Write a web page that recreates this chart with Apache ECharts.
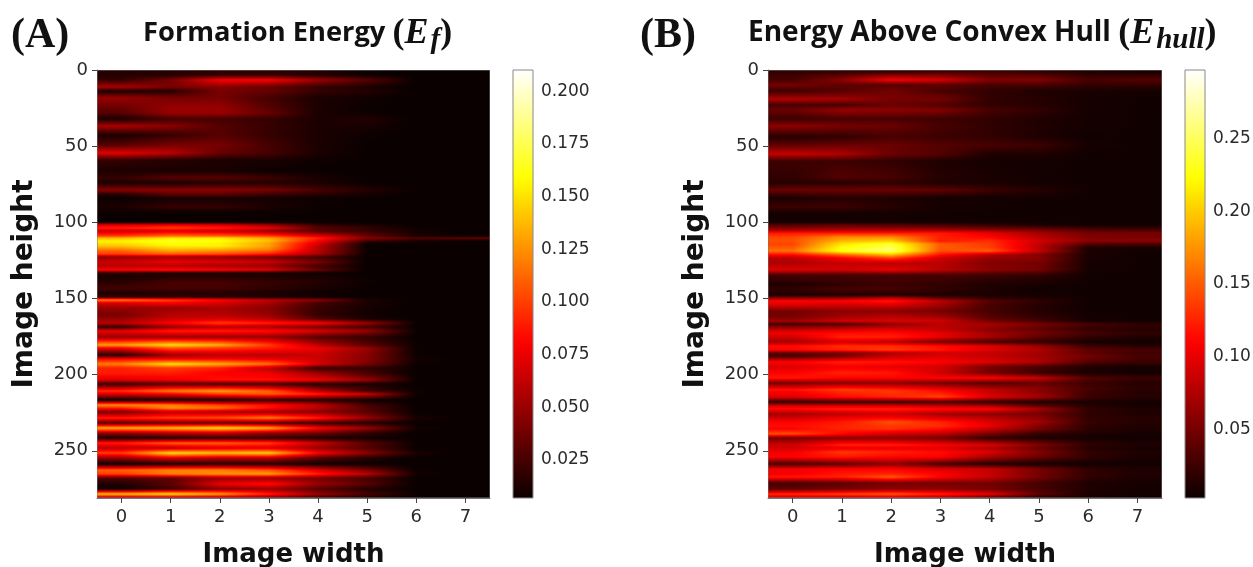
<!DOCTYPE html>
<html><head><meta charset="utf-8">
<style>html,body{margin:0;padding:0;background:#fff}#c{width:1253px;height:567px}</style>
<script src="https://cdn.jsdelivr.net/npm/echarts@6/dist/echarts.min.js"></script>
</head><body><div id="c"></div>
<script>
// Image-height position of each row
const efRowPos = [1,3,6.5,11,14,18.5,25,28.5,32,36.5,43,49,54.7,59,66,71,74.4,78.7,82,84,89.7,93,97.3,100,102,103.5,106,108.7,110.5,112,113.8,115.7,118,121,123,126,128.4,131,133,134.5,139,143,146.5,148.9,151,153,156,160.7,163.5,166,169,171.6,175.6,180.4,182.6,187,189.6,193,195.7,199,203.4,206,210.5,213,216.5,220,221.6,224.7,228.6,232,235,238.4,241.3,245,248.3,251.6,255,258.6,262.5,265,268,272,275,278.5,281];
// Formation energy values, thousandths of a unit, one column per image width 0..7
const efMilli = [
[15,15,18,18,14,8,6,6],[15,15,20,20,15,8,6,6],[20,40,78,78,50,30,7,6],[55,40,45,35,20,12,6,6],[12,15,40,35,20,15,6,6],[50,40,40,25,12,9,6,6],[35,50,50,30,12,8,6,6],[30,50,50,35,12,8,6,6],[12,25,25,20,12,14,6,6],[55,45,30,20,12,12,6,6],[12,20,30,20,12,8,6,6],[30,40,40,25,12,7,6,6],[72,60,35,25,12,7,6,6],[20,15,12,12,8,7,6,6],[12,12,12,8,7,6,6,6],
[20,30,30,22,12,7,6,6],[12,12,15,15,12,7,6,6],[45,45,45,40,25,15,7,6],[12,30,30,20,15,10,6,6],[8,10,10,10,8,7,6,6],[12,20,20,12,8,7,6,6],[8,8,8,8,7,6,6,6],[6,6,6,6,6,6,6,6],[6,6,6,6,6,6,6,6],[70,75,70,50,20,12,7,6],[90,100,90,75,30,20,7,6],[65,70,65,50,30,20,10,6],[100,115,110,100,70,35,12,8],[135,150,150,130,90,45,28,33],[155,165,160,140,80,25,12,8],[150,160,155,130,70,8,7,6],[140,155,155,130,62,7,6,6],[115,135,130,118,60,7,6,6],[100,110,105,90,55,7,6,6],[50,55,50,40,25,6,6,6],[65,75,70,65,40,6,6,6],[60,60,55,50,25,6,6,6],[80,85,80,70,35,6,6,6],[20,15,15,12,10,6,6,6],[12,12,12,12,10,7,6,6],[15,25,25,20,15,8,6,6],
[25,25,25,18,12,7,6,6],[12,15,15,12,8,7,6,6],[20,20,18,14,10,7,6,6],[120,100,80,60,45,12,6,6],[70,80,70,55,25,12,6,6],[50,50,55,45,20,10,6,6],[40,60,60,50,20,10,6,6],[50,65,70,60,30,12,6,6],[60,80,100,90,80,50,8,6],[20,50,60,55,40,25,6,6],[75,90,90,85,70,50,8,6],[50,50,50,50,30,20,6,6],[130,150,135,100,60,30,8,6],[80,110,100,90,75,50,7,6],[15,50,60,60,65,45,8,6],[80,80,80,75,65,45,10,6],[120,150,135,115,70,40,8,6],[90,100,90,60,20,20,7,6],[90,90,80,75,50,25,6,6],[70,75,85,85,75,50,8,6],[20,30,25,25,15,12,6,6],
[95,120,130,110,60,25,8,6],[70,80,100,110,90,65,8,6],[8,12,12,20,15,8,6,6],[125,120,100,85,60,25,6,6],[90,125,115,85,60,30,6,6],[40,60,55,50,45,30,6,6],[90,100,105,120,90,50,12,6],[30,35,35,30,20,15,6,6],[135,140,150,135,80,50,10,6],[50,60,65,50,40,20,6,6],[12,15,20,20,12,10,6,6],[90,110,110,100,65,30,8,6],[60,60,70,70,50,30,6,6],[100,150,140,145,80,45,12,6],[50,70,60,60,30,15,6,6],[8,12,15,15,10,8,6,6],[110,120,120,105,70,40,7,6],[100,120,125,130,90,60,10,6],[30,35,50,50,40,25,6,6],[12,30,75,85,50,30,6,6],[10,25,45,50,30,15,6,6],[140,150,130,90,50,25,8,6],[50,50,50,40,20,12,6,6]];
const hullRowPos = [1,6.5,10,14,19,23,26,32,37,44,49,55,60,70,74.4,78.7,84,89.7,94,99.5,101.7,105,107,109.4,112,114.4,116.6,118.8,121.4,123.6,127,131,134.5,141,144,147.5,149.8,151.5,154,158.5,162,165,167,170.5,172.7,175.6,178.6,181.5,183.7,186,188,191.8,195,199,202,205.5,210,211,214.8,217.7,220.5,222.7,225.8,228.6,231,234,236,239,241.7,246,248.3,250.5,253.8,258.6,262,265,267.3,271,275,278.2,280.3];
// Energy above convex hull values, thousandths of a unit, one column per image width 0..7
const hullMilli = [
[20,20,20,25,25,20,12,8],[30,60,105,90,55,55,30,35],[50,40,35,40,30,30,20,20],[25,35,50,30,20,12,10,8],[75,70,50,50,20,15,8,6],[30,30,45,35,20,15,8,6],[45,65,60,55,30,20,8,6],[25,30,30,25,20,12,8,6],[60,50,45,30,20,12,8,6],[15,20,30,25,20,12,6,6],[40,45,45,35,30,25,8,6],[85,75,45,35,12,12,6,6],[25,25,20,12,8,7,6,6],[20,35,30,15,10,7,6,6],
[15,15,20,12,10,7,6,6],[45,45,45,40,25,15,6,6],[10,15,12,8,7,6,6,6],[25,25,15,8,7,6,6,6],[8,8,8,7,6,6,6,6],[6,6,6,6,6,6,6,6],[35,40,35,30,20,12,6,6],[70,75,75,70,60,50,35,30],[120,120,120,120,100,70,50,50],[140,170,170,125,110,80,55,50],[145,190,200,120,130,90,60,60],[140,210,235,150,135,85,35,30],[150,225,250,150,140,80,10,8],[160,230,255,145,150,85,12,7],[110,150,190,115,75,55,10,6],[80,110,140,90,65,60,10,6],[75,85,80,80,55,50,8,6],[95,90,100,80,60,50,8,6],[30,30,30,30,25,20,6,6],[12,20,25,20,12,8,6,6],
[20,30,30,20,12,6,6,6],[10,12,12,12,10,7,6,6],[60,60,80,40,20,12,6,6],[110,110,120,80,35,20,6,6],[95,90,95,70,30,15,6,6],[50,60,60,50,30,15,6,6],[50,70,80,70,35,20,8,6],[70,90,95,90,50,30,8,6],[30,35,60,80,70,50,30,20],[85,95,100,85,60,40,20,15],[105,115,115,100,70,50,30,20],[90,125,125,100,70,40,20,12],[70,90,80,50,30,20,8,6],[115,130,130,115,95,65,25,15],[110,125,135,120,95,75,40,30],[40,50,75,90,85,70,40,25],[30,50,85,95,85,70,50,30],[110,125,120,110,95,75,35,25],[95,105,100,90,50,30,12,8],[110,125,120,90,50,25,10,6],[120,110,110,110,110,85,35,25],[50,60,60,50,35,45,25,15],[120,140,130,110,85,60,30,18],
[110,130,135,115,85,60,25,15],[95,115,125,140,95,70,25,15],[20,25,25,30,20,12,10,8],[95,95,95,85,75,40,15,8],[115,125,125,115,110,70,20,12],[70,80,90,70,60,50,20,12],[90,105,110,95,80,60,20,15],[110,120,145,125,95,70,22,15],[115,125,135,130,100,55,18,12],[110,125,130,115,85,50,18,12],[145,110,90,80,50,20,12,8],[50,60,60,50,20,12,8,6],[90,125,125,110,95,55,20,12],[90,100,100,95,75,45,15,8],[105,135,125,115,95,55,20,12],[110,120,110,110,70,45,20,10],[30,40,60,30,15,8,6,6],[105,110,110,95,85,50,20,12],[105,120,125,110,85,50,20,12],[120,125,150,110,85,50,20,12],[30,40,50,50,50,30,12,8],[40,50,60,60,50,30,12,8],[130,140,150,125,100,40,10,8],[95,95,100,85,50,20,10,6]];
const yTickValues = [0,50,100,150,200,250];
const xTickValues = [0,1,2,3,4,5,6,7];
const efBarTicks = [0.025,0.05,0.075,0.1,0.125,0.15,0.175,0.2];
const hullBarTicks = [0.05,0.1,0.15,0.2,0.25];
const efRange = [0.007,0.21];
const hullRange = [0.003,0.297];
const imageRows = 281;

function hot(t){t=Math.max(0,Math.min(1,t));
  const r=t<0.365?10+245*t/0.365:255, g=t<0.365?0:t<0.746?255*(t-0.365)/0.381:255, b=t<0.746?0:255*(t-0.746)/0.254;
  return 'rgb('+Math.round(r)+','+Math.round(g)+','+Math.round(b)+')';}
const STEPS=5;
function stripFill(vals,range){
  const stops=[];const t=v=>(v-range[0])/(range[1]-range[0]);
  stops.push({offset:0,color:hot(t(vals[0]))});
  for(let k=0;k<7;k++)for(let s=0;s<STEPS;s++){
    stops.push({offset:(k+0.5+s/STEPS)/8,color:hot(t(vals[k]+(vals[k+1]-vals[k])*s/STEPS))});}
  stops.push({offset:7.5/8,color:hot(t(vals[7]))});stops.push({offset:1,color:hot(t(vals[7]))});
  return {type:'linear',x:0,y:0,x2:1,y2:0,colorStops:stops};
}
function heatRender(pos,rows,range){
  return function(params,api){
    const i=params.dataIndex, last=rows.length-1;
    const a=api.coord([-0.5,0]), b=api.coord([7.5,imageRows]);
    const uTop=i===0?0:pos[i], uBot=i===last?imageRows:pos[i+1];
    const pTop=Math.round(api.coord([0,uTop])[1]), pBot=Math.round(api.coord([0,uBot])[1]);
    const children=[];
    for(let py=pTop;py<pBot;py++){
      const u=uTop+(py+0.5-pTop)/(pBot-pTop)*(uBot-uTop);
      const cur=rows[i]; const nxt=rows[Math.min(i+1,last)];
      const f=Math.max(0,Math.min(1,(u-pos[i])/((pos[i+1]||imageRows+1)-pos[i])));
      const vals=cur.map((v,k)=>(v+(nxt[k]-v)*f)/1000);
      children.push({type:'rect',shape:{x:a[0],y:py,width:b[0]-a[0],height:1},style:{fill:stripFill(vals,range)}});
    }
    if(i===last)children.push({type:'rect',shape:{x:a[0],y:a[1],width:b[0]-a[0],height:b[1]-a[1]},style:{fill:'none',stroke:'#777',lineWidth:1}});
    return {type:'group',children};
  };
}
function barRender(range){
  return function(params,api){
    const a=api.coord([0,range[1]]), b=api.coord([1,range[0]]);
    const stops=[];for(let s=0;s<=40;s++)stops.push({offset:s/40,color:hot(1-s/40)});
    return {type:'rect',shape:{x:a[0],y:a[1],width:b[0]-a[0],height:b[1]-a[1]},
      style:{fill:{type:'linear',x:0,y:0,x2:0,y2:1,colorStops:stops},stroke:'#888',lineWidth:1}};
  };
}
const font='DejaVu Sans';
const axisCommon={axisTick:{show:true,length:5,lineStyle:{color:'#444',width:1}},
  axisLine:{show:true,onZero:false,lineStyle:{color:'#777',width:1}},splitLine:{show:false}};
const labelStyle={fontFamily:font,fontSize:18,color:'#2b2b2b'};
const barLabelStyle={fontFamily:font,fontSize:17,color:'#2b2b2b'};
const nameStyle={fontFamily:font,fontSize:26,fontWeight:'bold',color:'#111'};
const nameStyleY={fontFamily:font,fontSize:28,fontWeight:'bold',color:'#111'};
function heatX(g){return Object.assign({gridIndex:g,type:'value',min:-0.5,max:7.5,name:'Image width',nameLocation:'middle',nameGap:44,nameTextStyle:nameStyle,
  axisLabel:Object.assign({customValues:xTickValues,margin:10},labelStyle)},axisCommon,{axisTick:{customValues:xTickValues,length:5,lineStyle:{color:'#444'}}});}
function heatY(g){return Object.assign({gridIndex:g,type:'value',inverse:true,min:0,max:imageRows,name:'Image height',nameLocation:'middle',nameGap:58,nameTextStyle:nameStyleY,
  axisLabel:Object.assign({customValues:yTickValues,margin:9},labelStyle)},axisCommon,{axisTick:{customValues:yTickValues,length:5,lineStyle:{color:'#444'}}});}
function barX(g){return {gridIndex:g,type:'value',min:0,max:1,show:false};}
function barY(g,range,ticks,dec){return Object.assign({gridIndex:g,type:'value',position:'right',min:range[0],max:range[1],
  axisLabel:Object.assign({customValues:ticks,margin:8,formatter:v=>v.toFixed(dec)},barLabelStyle)},axisCommon,{axisLine:{show:false},axisTick:{customValues:ticks,length:5,lineStyle:{color:'#444'}}});}
function titleRich(size){return {t:{fontFamily:'Open Sans',fontWeight:'bold',fontSize:size,color:'#111'},
  p:{fontFamily:'Liberation Serif',fontSize:36,color:'#111'},
  e:{fontFamily:'Liberation Serif',fontStyle:'italic',fontWeight:'bold',fontSize:36,color:'#111'},
  s:{fontFamily:'Liberation Serif',fontStyle:'italic',fontWeight:'bold',fontSize:29,color:'#111',padding:[14,0,0,2]}};}
const chart=echarts.init(document.getElementById('c'),null,{renderer:'canvas'});
const gridBase={outerBoundsMode:'none',containLabel:false};
chart.setOption({
  animation:false,backgroundColor:'#fff',
  title:[
    {text:'(A)',left:6,top:10,textStyle:{fontFamily:'Liberation Serif',fontWeight:'bold',fontSize:42,color:'#111'}},
    {text:'(B)',left:635,top:10,textStyle:{fontFamily:'Liberation Serif',fontWeight:'bold',fontSize:42,color:'#111'}},
    {text:'{t|Formation Energy }{p|(}{e|E}{s|f}{p|)}',left:138,top:7,textStyle:{rich:titleRich(27.3)}},
    {text:'{t|Energy Above Convex Hull }{p|(}{e|E}{s|hull}{p|)}',left:743,top:7,textStyle:{rich:titleRich(28)}}
  ],
  grid:[
    Object.assign({left:97,top:70,width:393,height:428},gridBase),
    Object.assign({left:513,top:70,width:20,height:428},gridBase),
    Object.assign({left:768,top:70,width:394,height:428},gridBase),
    Object.assign({left:1185,top:70,width:20,height:428},gridBase)
  ],
  xAxis:[heatX(0),barX(1),heatX(2),barX(3)],
  yAxis:[heatY(0),barY(1,efRange,efBarTicks,3),heatY(2),barY(3,hullRange,hullBarTicks,2)],
  series:[
    {type:'custom',name:'Formation Energy',xAxisIndex:0,yAxisIndex:0,clip:true,renderItem:heatRender(efRowPos,efMilli,efRange),data:efRowPos.map((u,i)=>[0,u].concat(efMilli[i])),encode:{x:0,y:1}},
    {type:'custom',name:'Formation Energy scale',xAxisIndex:1,yAxisIndex:1,renderItem:barRender(efRange),data:[[0,efRange[0]]],encode:{x:0,y:1}},
    {type:'custom',name:'Energy Above Convex Hull',xAxisIndex:2,yAxisIndex:2,clip:true,renderItem:heatRender(hullRowPos,hullMilli,hullRange),data:hullRowPos.map((u,i)=>[0,u].concat(hullMilli[i])),encode:{x:0,y:1}},
    {type:'custom',name:'Energy Above Convex Hull scale',xAxisIndex:3,yAxisIndex:3,renderItem:barRender(hullRange),data:[[0,hullRange[0]]],encode:{x:0,y:1}}
  ]
});
</script></body></html>
